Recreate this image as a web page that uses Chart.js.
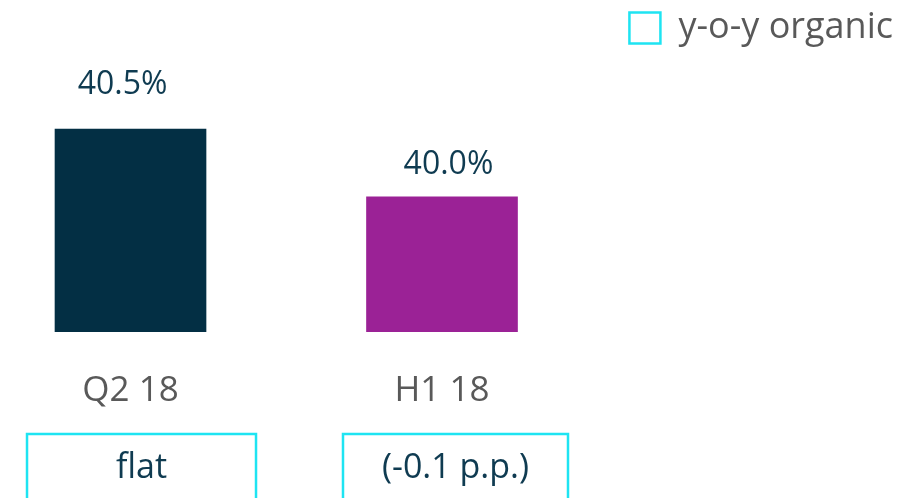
<!DOCTYPE html>
<html>
<head>
<meta charset="utf-8">
<script src="https://cdn.jsdelivr.net/npm/chart.js@4/dist/chart.umd.min.js"></script>
<style>
    html, body { margin: 0; padding: 0; background: #ffffff; }
    #wrap { width: 924px; height: 498px; position: relative; }
</style>
</head>
<body>
<div id="wrap"><canvas id="marginChart"></canvas></div>
<script>
const categories = ['Q2 18', 'H1 18'];
const marginValues = [40.5, 40.0];
const valueLabels = ['40.5%', '40.0%'];
const organicNotes = ['flat', '(-0.1 p.p.)'];
const legendLabel = 'y-o-y organic';

(() => {
    const colors = {
        navy: '#032f44',
        purple: '#9b2296',
        cyan: '#1ee4f2',
        labelDark: '#0f3b51',
        gray: '#595959'
    };
    const fontFamily = "'Open Sans', sans-serif";

    Chart.defaults.font.family = fontFamily;

    // value labels above the bars + the outlined note boxes under the axis
    const annotations = {
        id: 'annotations',
        afterDatasetsDraw(chart, args, opts) {
            const { ctx } = chart;
            const meta = chart.getDatasetMeta(0);
            ctx.save();
            meta.data.forEach((bar, i) => {
                ctx.font = `32px ${fontFamily}`;
                ctx.fillStyle = colors.labelDark;
                ctx.textAlign = 'center';
                ctx.textBaseline = 'alphabetic';
                ctx.fillText(valueLabels[i], bar.x + opts.labelShift[i], bar.y - opts.labelGap[i]);

                const cx = bar.x + opts.boxShift[i];
                const w = opts.boxWidth[i];
                ctx.strokeStyle = colors.cyan;
                ctx.lineWidth = 2.5;
                ctx.strokeRect(cx - w / 2, opts.boxTop, w, chart.height - opts.boxTop + 10);

                ctx.font = `34px ${fontFamily}`;
                ctx.fillStyle = colors.labelDark;
                ctx.fillText(organicNotes[i], cx, opts.noteBaseline);
            });
            ctx.restore();
        }
    };

    const ctx = document.getElementById('marginChart').getContext('2d');
    new Chart(ctx, {
        type: 'bar',
        data: {
            datasets: [{
                data: categories.map((c, i) => ({ x: i, y: marginValues[i] })),
                backgroundColor: [colors.navy, colors.purple],
                borderWidth: 0,
                barThickness: 151,
                base: 39
            }]
        },
        options: {
            responsive: true,
            maintainAspectRatio: false,
            animation: false,
            layout: { padding: { top: 0, right: 21, bottom: 48, left: 0 } },
            plugins: {
                legend: {
                    position: 'top',
                    align: 'end',
                    labels: {
                        boxWidth: 31,
                        boxHeight: 31,
                        padding: 10,
                        color: colors.gray,
                        font: { size: 36, family: fontFamily },
                        generateLabels() {
                            return [{
                                text: legendLabel,
                                fillStyle: 'rgba(0,0,0,0)',
                                strokeStyle: colors.cyan,
                                lineWidth: 2.5,
                                fontColor: colors.gray,
                                datasetIndex: 0
                            }];
                        }
                    }
                },
                tooltip: { enabled: false },
                annotations: {
                    labelGap: [35, 23],
                    labelShift: [-8, 6.5],
                    boxShift: [11, 13.5],
                    boxWidth: [229, 225],
                    boxTop: 434,
                    noteBaseline: 478
                }
            },
            scales: {
                x: {
                    type: 'linear',
                    offset: false,
                    min: -0.419,
                    max: 2.48,
                    grid: { display: false, drawTicks: false },
                    border: { display: false },
                    afterBuildTicks(scale) {
                        scale.ticks = categories.map((c, i) => ({ value: i }));
                    },
                    ticks: {
                        autoSkip: false,
                        maxRotation: 0,
                        padding: 38,
                        color: colors.gray,
                        font: { size: 35, family: fontFamily },
                        callback: (value) => categories[value] || ''
                    }
                },
                y: {
                    display: false,
                    min: 39,
                    max: 41.04
                }
            }
        },
        plugins: [annotations]
    });
})();
</script>
</body>
</html>
